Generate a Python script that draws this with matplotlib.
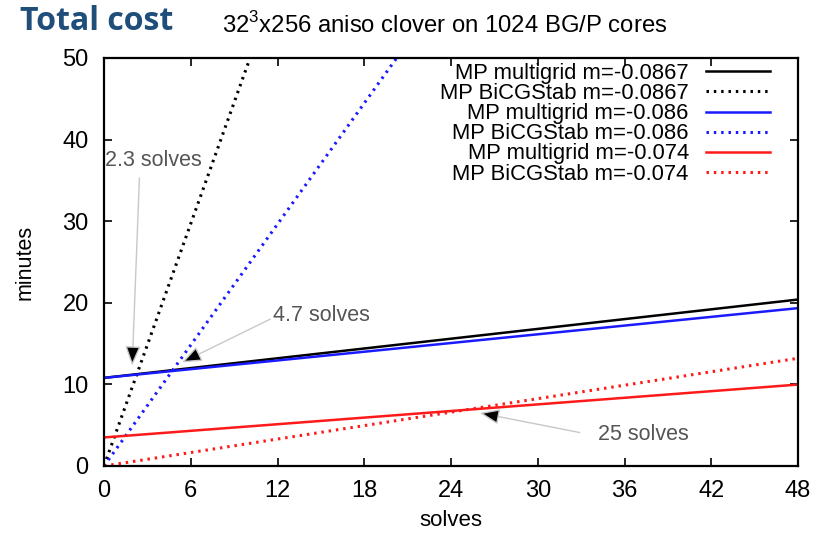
import matplotlib
matplotlib.use("Agg")
import matplotlib.pyplot as plt
import numpy as np

plt.rcParams['font.family'] = ['Liberation Sans', 'DejaVu Sans']
plt.rcParams['mathtext.fontset'] = 'custom'
plt.rcParams['mathtext.rm'] = 'Liberation Sans'

# Cost model: minutes = setup + per_solve * solves
series_labels = [
    "MP multigrid m=-0.0867",
    "MP BiCGStab m=-0.0867",
    "MP multigrid m=-0.086",
    "MP BiCGStab m=-0.086",
    "MP multigrid m=-0.074",
    "MP BiCGStab m=-0.074",
]
setup_minutes = [10.8, 0.0, 10.8, 0.0, 3.5, 0.0]
minutes_per_solve = [0.20, 4.95, 0.178, 2.47, 0.135, 0.275]
series_colors = ["black", "black", "#1a1aff", "#1a1aff", "#ff1a1a", "#ff1a1a"]
series_styles = ["-", ":", "-", ":", "-", ":"]

solves_range = [0, 48]
x_ticks = [0, 6, 12, 18, 24, 30, 36, 42, 48]
y_ticks = [0, 10, 20, 30, 40, 50]

# crossover annotations: (text, text position, arrow tip, arrow tail)
crossovers = [
    ("2.3 solves", (0.1, 37.5), (1.95, 12.3), (2.45, 35.3)),
    ("4.7 solves", (11.7, 18.5), (5.4, 12.7), (11.5, 18.0)),
    ("25 solves", (34.2, 3.8), (26.0, 6.5), (32.9, 4.1)),
]

fig = plt.figure(figsize=(8.14, 5.34), dpi=100)
ax = fig.add_axes([104 / 814, 1 - 466 / 534, (798 - 104) / 814, (466 - 58) / 534])

xs = np.linspace(solves_range[0], solves_range[1], 400)
for lab, s0, r, c, ls in zip(series_labels, setup_minutes, minutes_per_solve,
                             series_colors, series_styles):
    ys = s0 + r * xs
    if ls == ":":
        ax.plot(xs, ys, color=c, lw=2.2, linestyle=(0, (0.8, 1.6)), label=lab,
                dash_capstyle='butt')
    else:
        ax.plot(xs, ys, color=c, lw=1.8, linestyle='-', label=lab)

ax.set_xlim(0, 48)
ax.set_ylim(0, 50)
ax.set_xticks(x_ticks)
ax.set_yticks(y_ticks)
ax.tick_params(direction='in', top=True, right=True, length=6, width=1.2,
               labelsize=17, colors='black')
ax.tick_params(axis='y', pad=11)
ax.tick_params(axis='x', pad=10)
for sp in ax.spines.values():
    sp.set_linewidth(1.6)

ax.set_xlabel("solves", fontsize=16)
ax.set_ylabel("minutes", fontsize=15.5)
ax.xaxis.set_label_coords(0.5, -0.108)
ax.yaxis.set_label_coords(-0.098, 0.5)

for txt, tpos, tip, tail in crossovers:
    ax.annotate("", xy=tip, xytext=tail,
                arrowprops=dict(arrowstyle='-|>,head_length=0.8,head_width=0.32',
                                facecolor='black', edgecolor='#c8c8c8', lw=1.0,
                                shrinkA=0, shrinkB=0, mutation_scale=15))
    ax.text(tpos[0], tpos[1], txt, fontsize=15.5, color='#555555', ha='left', va='center')

leg = ax.legend(loc='upper right', frameon=False, markerfirst=False,
                fontsize=15.8, handlelength=2.9, labelspacing=-0.04,
                borderaxespad=0.0, handletextpad=0.8, borderpad=0.0,
                bbox_to_anchor=((770 - 104) / 694, (466 - 63) / 408))
for t in leg.get_texts():
    t.set_ha('right')

fig.text(20 / 814, 1 - 22 / 534, "Total cost", fontsize=23, fontweight='bold',
         color='#1f4e7a', family=['Open Sans', 'DejaVu Sans'], va='center', ha='left')
fig.text(222 / 814, 1 - 25 / 534, r"32$^3$x256 aniso clover on 1024 BG/P cores",
         fontsize=17.2, color='black', va='center', ha='left')

fig.savefig("out.png", dpi=100)
